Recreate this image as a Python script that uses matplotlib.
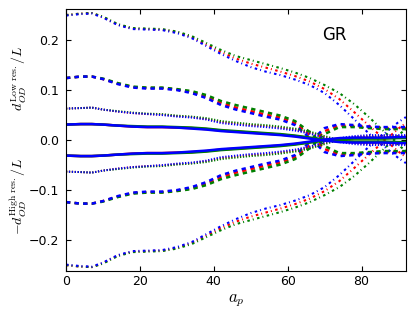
import matplotlib
matplotlib.use("Agg")
import matplotlib.pyplot as plt

plt.rcParams['mathtext.fontset'] = 'cm'
plt.rcParams['lines.scale_dashes'] = False
plt.rcParams['lines.dash_capstyle'] = 'butt'

# a_p sample points
a_p = [0, 4, 7, 10, 14, 18, 22, 26, 30, 34, 38, 42, 46, 50, 54, 58, 62, 66, 70, 74, 78, 82, 86, 90, 92]

# d_OD / L, four separations, three runs each (blue, red, green)
dd_b = [0.249, 0.252, 0.253, 0.245, 0.230, 0.222, 0.221, 0.220, 0.214, 0.204, 0.188, 0.172, 0.158,
        0.146, 0.137, 0.130, 0.121, 0.110, 0.094, 0.070, 0.042, 0.013, -0.012, -0.036, -0.046]
dd_r = [0.250, 0.253, 0.254, 0.246, 0.231, 0.223, 0.222, 0.221, 0.216, 0.206, 0.191, 0.176, 0.163,
        0.153, 0.145, 0.137, 0.128, 0.117, 0.102, 0.082, 0.056, 0.029, 0.003, -0.023, -0.034]
dd_g = [0.250, 0.253, 0.254, 0.247, 0.232, 0.224, 0.223, 0.222, 0.217, 0.208, 0.194, 0.180, 0.168,
        0.160, 0.152, 0.144, 0.135, 0.124, 0.110, 0.094, 0.072, 0.046, 0.018, -0.010, -0.022]

da_b = [0.124, 0.127, 0.127, 0.122, 0.112, 0.105, 0.103, 0.103, 0.100, 0.094, 0.084, 0.070, 0.061,
        0.054, 0.047, 0.041, 0.030, 0.004, -0.024, -0.032, -0.030, -0.027, -0.026, -0.026, -0.026]
da_r = [0.124, 0.127, 0.127, 0.122, 0.113, 0.106, 0.104, 0.104, 0.101, 0.096, 0.087, 0.074, 0.065,
        0.058, 0.051, 0.045, 0.034, 0.010, -0.018, -0.029, -0.028, -0.026, -0.024, -0.024, -0.024]
da_g = [0.124, 0.127, 0.127, 0.123, 0.114, 0.107, 0.105, 0.105, 0.102, 0.098, 0.090, 0.078, 0.070,
        0.063, 0.056, 0.049, 0.038, 0.016, -0.012, -0.026, -0.026, -0.024, -0.022, -0.022, -0.022]

do_b = [0.063, 0.064, 0.065, 0.061, 0.057, 0.054, 0.052, 0.050, 0.047, 0.045, 0.041, 0.034, 0.031,
        0.028, 0.026, 0.023, 0.019, 0.013, 0.004, -0.004, -0.008, -0.010, -0.010, -0.010, -0.010]
do_r = [0.063, 0.064, 0.065, 0.061, 0.057, 0.054, 0.052, 0.051, 0.048, 0.046, 0.042, 0.036, 0.033,
        0.030, 0.028, 0.025, 0.021, 0.015, 0.006, -0.002, -0.006, -0.008, -0.008, -0.008, -0.008]
do_g = [0.063, 0.064, 0.065, 0.061, 0.058, 0.055, 0.053, 0.052, 0.049, 0.047, 0.044, 0.038, 0.035,
        0.032, 0.030, 0.027, 0.023, 0.017, 0.008, 0.000, -0.004, -0.006, -0.006, -0.006, -0.006]

so_b = [0.031, 0.032, 0.032, 0.031, 0.029, 0.027, 0.026, 0.026, 0.025, 0.023, 0.021, 0.018, 0.016,
        0.014, 0.012, 0.010, 0.007, 0.003, -0.001, -0.004, -0.005, -0.005, -0.005, -0.006, -0.006]
so_r = [0.031, 0.032, 0.032, 0.031, 0.029, 0.027, 0.026, 0.026, 0.025, 0.024, 0.022, 0.019, 0.017,
        0.015, 0.013, 0.011, 0.008, 0.004, 0.000, -0.003, -0.004, -0.004, -0.004, -0.005, -0.005]
so_g = [0.031, 0.032, 0.032, 0.031, 0.029, 0.028, 0.027, 0.027, 0.026, 0.025, 0.023, 0.020, 0.018,
        0.016, 0.014, 0.012, 0.009, 0.005, 0.001, -0.002, -0.003, -0.003, -0.003, -0.004, -0.004]

# GR: high-res differences equal the low-res ones
groups = [
    ((dd_r, dd_g, dd_b), (1.8, 2.2, 0.7, 2.5), 1.5),
    ((da_r, da_g, da_b), (3.1, 3.1), 1.8),
    ((do_r, do_g, do_b), (0.9, 1.2), 1.4),
    ((so_r, so_g, so_b), None, 1.8),
]
colors = ['r', 'g', 'b']

fig = plt.figure(figsize=(4.15, 3.12), dpi=100)
ax = fig.add_axes([0.159, 0.131, 0.819, 0.840])

for runs, dashes, lw in groups:
    for d, c in zip(runs, colors):
        for sign in (1, -1):
            y = [sign * v for v in d]
            if dashes is None:
                ax.plot(a_p, y, color=c, lw=lw)
            else:
                ax.plot(a_p, y, color=c, lw=lw, dashes=dashes)

ax.set_xlim(0, 92)
ax.set_ylim(-0.262, 0.262)
ax.set_xticks([0, 20, 40, 60, 80])
ax.set_yticks([-0.2, -0.1, 0.0, 0.1, 0.2])
ax.tick_params(direction='in', top=True, right=True, length=3.5, labelsize=9)
ax.tick_params(axis='y', pad=5)
ax.tick_params(axis='x', pad=3)

ax.set_xlabel(r'$a_p$', fontsize=12, labelpad=2)
ax.set_ylabel(r'$-d_{OD}^{\rm High\ res.}/L\qquad\qquad d_{OD}^{\rm Low\ res.}/L$', fontsize=10, labelpad=0)
ax.text(0.79, 0.90, 'GR', transform=ax.transAxes, fontsize=12, ha='center', va='center')

fig.savefig('out.png', dpi=100)
